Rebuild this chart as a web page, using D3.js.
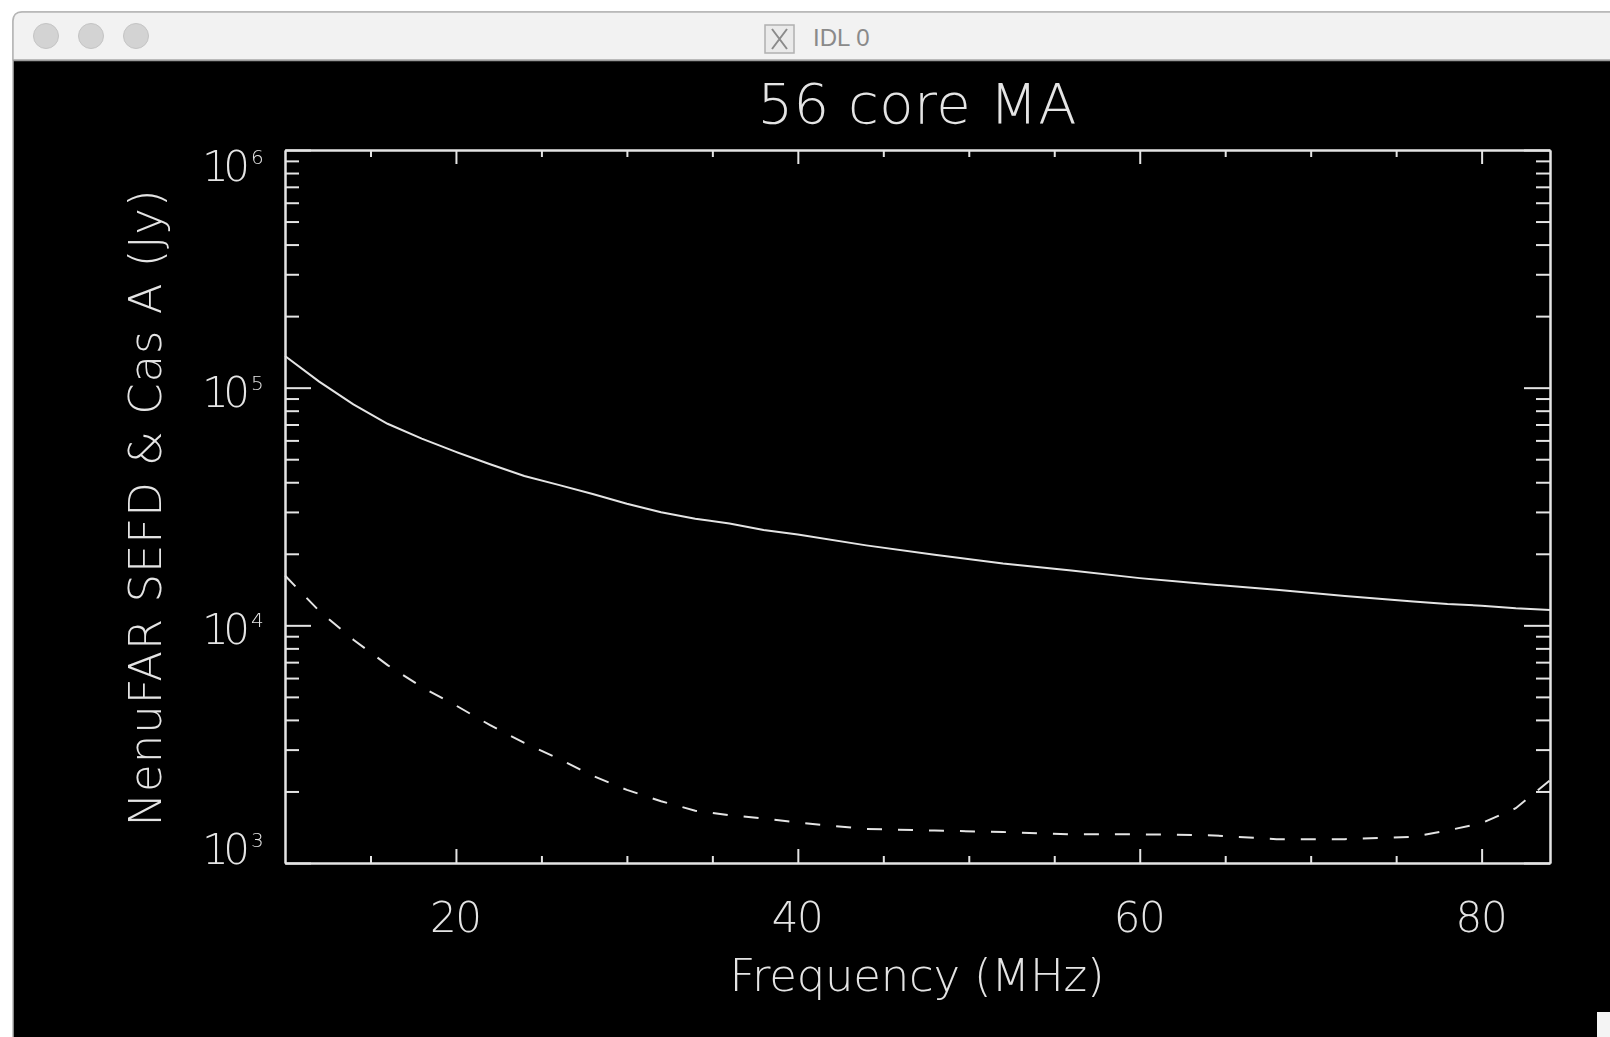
<!DOCTYPE html>
<html>
<head>
<meta charset="utf-8">
<script src="https://cdn.jsdelivr.net/npm/d3@7"></script>
<style>
  html, body { margin: 0; padding: 0; background: #fff; overflow: hidden; }
  svg { display: block; }
  .idl text { font-family: "DejaVu Sans", sans-serif; font-weight: 200; fill: #e4e4e4; }
</style>
</head>
<body>
<div id="chart"></div>
<script>
// frequencies (MHz)
const freqs = [10, 12, 14, 16, 18, 20, 22, 24, 26, 28, 30, 32, 34, 36, 38, 40,
               44, 48, 52, 56, 60, 64, 68, 72, 76, 78, 80, 82, 84];

// solid curve: NenuFAR SEFD (Jy)
const sefd = [1.36e5, 1.06e5, 8.5e4, 7.05e4, 6.1e4, 5.37e4, 4.76e4, 4.25e4, 3.9e4, 3.57e4,
              3.25e4, 2.99e4, 2.81e4, 2.68e4, 2.52e4, 2.41e4, 2.17e4, 1.98e4, 1.82e4, 1.70e4,
              1.58e4, 1.49e4, 1.41e4, 1.33e4, 1.26e4, 1.23e4, 1.21e4, 1.18e4, 1.16e4];

// dashed curve: Cas A (Jy)
const casA = [1.62e4, 1.15e4, 8.7e3, 6.8e3, 5.5e3, 4.6e3, 3.8e3, 3.2e3, 2.75e3, 2.33e3,
              2.03e3, 1.82e3, 1.66e3, 1.59e3, 1.54e3, 1.48e3, 1.39e3, 1.37e3, 1.35e3, 1.32e3,
              1.32e3, 1.31e3, 1.26e3, 1.26e3, 1.29e3, 1.37e3, 1.47e3, 1.70e3, 2.23e3];

// axis ticks
const xMajorTicks = [20, 40, 60, 80];
const xMinorTicks = [15, 25, 30, 35, 45, 50, 55, 65, 70, 75];
const yMajorTicks = [1e3, 1e4, 1e5, 1e6];
const yLabels = ["3", "4", "5", "6"];

const titleText = "56 core MA";
const xTitle = "Frequency (MHz)";
const yTitle = "NenuFAR SEFD & Cas A (Jy)";
const windowTitle = "IDL 0";

// page and plot box
const W = 1610, H = 1037;
const margin = { top: 150, right: 60, bottom: 174, left: 285 };
const width = W - margin.left - margin.right;
const height = H - margin.top - margin.bottom;
const ink = "#e4e4e4";

const svg = d3.select("#chart").append("svg")
    .attr("width", W)
    .attr("height", H);

// ---- window chrome (X11 window on mac) ----
svg.append("rect")
   .attr("x", 13).attr("y", 12)
   .attr("width", W + 20).attr("height", H + 20)
   .attr("rx", 9)
   .attr("fill", "#000")
   .attr("stroke", "#b5b5b5")
   .attr("stroke-width", 1.5);

svg.append("path")
   .attr("d", `M13,60 L13,21 Q13,12 22,12 L${W + 5},12 L${W + 5},60 Z`)
   .attr("fill", "#f2f2f2")
   .attr("stroke", "#b5b5b5")
   .attr("stroke-width", 1.5);

svg.append("line")
   .attr("x1", 13).attr("x2", W).attr("y1", 60.5).attr("y2", 60.5)
   .attr("stroke", "#9a9a9a").attr("stroke-width", 1.5);

svg.selectAll("circle.btn")
   .data([46, 91, 136])
   .join("circle")
   .attr("class", "btn")
   .attr("cx", d => d).attr("cy", 36).attr("r", 12.5)
   .attr("fill", "#d3d3d3")
   .attr("stroke", "#c4c4c4");

// X11 icon + title
const icon = svg.append("g").attr("transform", "translate(765,25)");
icon.append("rect").attr("width", 29).attr("height", 28)
    .attr("fill", "#eaeaea").attr("stroke", "#b0b0b0").attr("stroke-width", 1.5);
icon.append("path").attr("d", "M7,4 L22,24 M22,4 L7,24")
    .attr("stroke", "#8a8a8a").attr("stroke-width", 2).attr("fill", "none");

svg.append("text")
   .attr("x", 813).attr("y", 46)
   .attr("font-family", "Helvetica, Arial, 'Liberation Sans', sans-serif")
   .attr("font-size", 24)
   .attr("fill", "#8a8a8a")
   .text(windowTitle);

// small white corner at bottom right
svg.append("rect").attr("x", 1597).attr("y", 1012).attr("width", 13).attr("height", 25).attr("fill", "#f4f4f4");

// ---- plot ----
const plot = svg.append("g").attr("class", "idl")
    .style("filter", "blur(0.45px)");

const x = d3.scaleLinear().domain([10, 84]).range([margin.left, margin.left + width]);
const y = d3.scaleLog().domain([1e3, 1e6]).range([margin.top + height, margin.top]);

// log minor ticks 2..9 in each decade
const yMinorTicks = [];
for (const d of yMajorTicks.slice(0, -1)) {
    for (let k = 2; k <= 9; k++) yMinorTicks.push(d * k);
}

function styleAxis(g) {
    g.selectAll("path, line").attr("stroke", ink).attr("stroke-width", 2);
    g.selectAll("text").remove();
}

// bottom and top
plot.append("g")
    .attr("transform", `translate(0,${margin.top + height})`)
    .call(d3.axisBottom(x).tickValues(xMajorTicks).tickSize(-14).tickSizeOuter(0))
    .call(styleAxis);
plot.append("g")
    .attr("transform", `translate(0,${margin.top + height})`)
    .call(d3.axisBottom(x).tickValues(xMinorTicks).tickSize(-7).tickSizeOuter(0))
    .call(styleAxis);
plot.append("g")
    .attr("transform", `translate(0,${margin.top})`)
    .call(d3.axisTop(x).tickValues(xMajorTicks).tickSize(-14).tickSizeOuter(0))
    .call(styleAxis);
plot.append("g")
    .attr("transform", `translate(0,${margin.top})`)
    .call(d3.axisTop(x).tickValues(xMinorTicks).tickSize(-7).tickSizeOuter(0))
    .call(styleAxis);

// left and right
plot.append("g")
    .attr("transform", `translate(${margin.left},0)`)
    .call(d3.axisLeft(y).tickValues(yMajorTicks).tickSize(-26).tickSizeOuter(0))
    .call(styleAxis);
plot.append("g")
    .attr("transform", `translate(${margin.left},0)`)
    .call(d3.axisLeft(y).tickValues(yMinorTicks).tickSize(-14).tickSizeOuter(0))
    .call(styleAxis);
plot.append("g")
    .attr("transform", `translate(${margin.left + width},0)`)
    .call(d3.axisRight(y).tickValues(yMajorTicks).tickSize(-26).tickSizeOuter(0))
    .call(styleAxis);
plot.append("g")
    .attr("transform", `translate(${margin.left + width},0)`)
    .call(d3.axisRight(y).tickValues(yMinorTicks).tickSize(-14).tickSizeOuter(0))
    .call(styleAxis);

// x tick labels
plot.selectAll("text.xlab")
    .data(xMajorTicks)
    .join("text")
    .attr("class", "xlab")
    .attr("x", d => x(d))
    .attr("y", margin.top + height + 69)
    .attr("text-anchor", "middle")
    .attr("font-size", 42)
    .attr("textLength", 52)
    .text(d => d);

// y tick labels, 10^n
const ylab = plot.selectAll("text.ylab")
    .data(yMajorTicks)
    .join("text")
    .attr("class", "ylab")
    .attr("x", margin.left - 35)
    .attr("y", (d, i) => {
        // labels at the ends sit inside the frame
        const off = i === 0 ? -14 : (i === yMajorTicks.length - 1 ? 16 : 4);
        return y(d) + off + 15;
    })
    .attr("text-anchor", "end")
    .attr("font-size", 42);
ylab.append("tspan").attr("textLength", 48).text("10");
ylab.append("tspan")
    .attr("x", margin.left - 34)
    .attr("dy", -17)
    .attr("font-size", 20)
    .attr("text-anchor", "start")
    .text((d, i) => yLabels[i]);

// curves
const line = d3.line()
    .x((d, i) => x(freqs[i]))
    .y(d => y(d));

plot.append("path")
    .datum(sefd)
    .attr("d", line)
    .attr("fill", "none")
    .attr("stroke", ink)
    .attr("stroke-width", 2);

plot.append("path")
    .datum(casA)
    .attr("d", line)
    .attr("fill", "none")
    .attr("stroke", ink)
    .attr("stroke-width", 2)
    .attr("stroke-dasharray", "15,16");

// titles
plot.append("text")
    .attr("x", 917).attr("y", 123)
    .attr("text-anchor", "middle")
    .attr("font-size", 56)
    .attr("textLength", 319)
    .text(titleText);

plot.append("text")
    .attr("x", 917).attr("y", 991)
    .attr("text-anchor", "middle")
    .attr("font-size", 45)
    .attr("textLength", 375)
    .text(xTitle);

plot.append("text")
    .attr("transform", "translate(161,508) rotate(-90)")
    .attr("text-anchor", "middle")
    .attr("font-size", 45)
    .attr("textLength", 637)
    .text(yTitle);
</script>
</body>
</html>
